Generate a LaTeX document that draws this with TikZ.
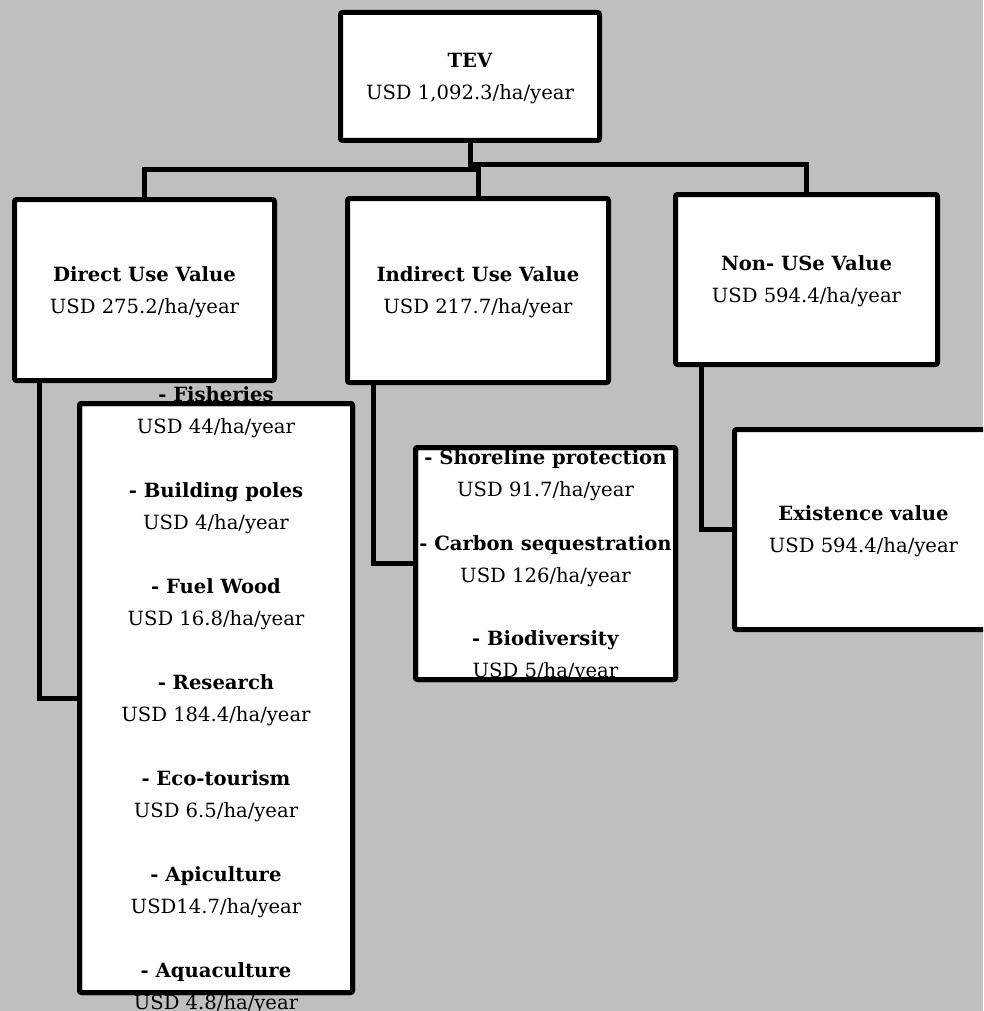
\documentclass[tikz,border=0pt]{standalone}
\usepackage{fontspec}
\setmainfont{DejaVu Serif}
\usepackage{tikz}
\definecolor{bggray}{RGB}{191,191,191}

\begin{document}
\begin{tikzpicture}[x=1pt,y=-1pt,
  box/.style={draw,fill=white,line width=5pt,rounded corners=2pt,outer sep=0pt,
    align=center,font=\fontsize{19.6}{32}\selectfont,text depth=-1pt},
  frame/.style={draw,line width=5pt,rounded corners=2pt},
  items/.style={align=center,font=\fontsize{19.6}{32}\selectfont,text depth=-1pt},
  link/.style={draw,line width=5pt}]
\useasboundingbox (0,0) rectangle (983,1011);
\clip (0,0) rectangle (983,1011);
\fill[bggray] (0,0) rectangle (983,1011);

\node[box,minimum width=259,minimum height=128] (tev) at (470,76.5) {\textbf{TEV}\\USD 1,092.3/ha/year};
\node[box,minimum width=260,minimum height=181] (direct) at (144.5,290) {\textbf{Direct Use Value}\\USD 275.2/ha/year};
\node[box,minimum width=261,minimum height=184] (indirect) at (478,290.5) {\textbf{Indirect Use Value}\\USD 217.7/ha/year};
\node[box,minimum width=262,minimum height=170] (nonuse) at (806.5,279.5) {\textbf{Non- USe Value}\\USD 594.4/ha/year};

\draw[link] (tev.south) -- ++(0,24.5) -| (nonuse.north);
\draw[link] (direct.north) -- ++(0,-29.5) -| (indirect.north);
\draw[link] ([xshift=24.5pt]direct.south west) |- (216,698);
\draw[link] ([xshift=25.5pt]indirect.south west) |- (545.5,563.5);
\draw[link] ([xshift=25.5pt]nonuse.south west) |- (863.5,529.5);

\node[box,minimum width=273,minimum height=589] (uses) at (216,698) {};
\node[items] (usestext) at (uses) {\textbf{- Fisheries}\\USD 44/ha/year\\[32pt]
  \textbf{- Building poles}\\USD 4/ha/year\\[32pt]
  \textbf{- Fuel Wood}\\USD 16.8/ha/year\\[32pt]
  \textbf{- Research}\\USD 184.4/ha/year\\[32pt]
  \textbf{- Eco-tourism}\\USD 6.5/ha/year\\[32pt]
  \textbf{- Apiculture}\\USD14.7/ha/year\\[32pt]
  \textbf{- Aquaculture}\\USD 4.8/ha/year};
\draw[frame] (uses.north west) rectangle (uses.south east);

\node[box,minimum width=260,minimum height=232] (services) at (545.5,563.5) {};
\node[items] (servicestext) at (services) {\textbf{- Shoreline protection}\\USD 91.7/ha/year\\[22pt]
  \textbf{- Carbon sequestration}\\USD 126/ha/year\\[31pt]
  \textbf{- Biodiversity}\\USD 5/ha/year};
\draw[frame] (services.north west) rectangle (services.south east);

\node[box,minimum width=258,minimum height=200] (exist) at (863.5,529.5) {\textbf{Existence value}\\USD 594.4/ha/year};
\end{tikzpicture}
\end{document}
